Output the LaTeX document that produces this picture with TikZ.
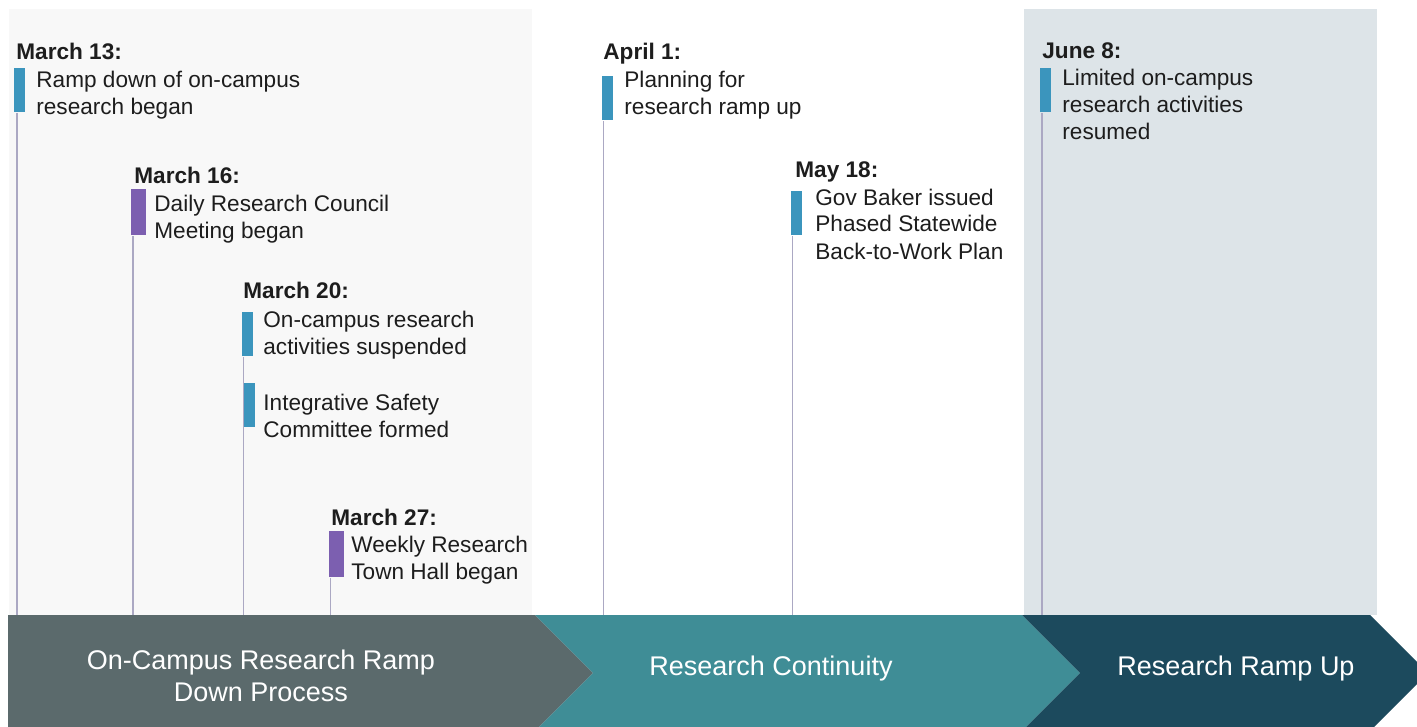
\documentclass[tikz,border=0pt]{standalone}
\usepackage{fontspec}
\setmainfont{Liberation Sans}
\definecolor{evblue}{HTML}{3B95BD}
\definecolor{evpurple}{HTML}{7C5FB0}
\definecolor{stemgray}{HTML}{ABA8C3}
\definecolor{panelgray}{HTML}{F8F8F8}
\definecolor{panelblue}{HTML}{DDE4E8}
\definecolor{phaseA}{HTML}{5B6A6C}
\definecolor{phaseB}{HTML}{3F8D96}
\definecolor{phaseC}{HTML}{1C4A5D}
\definecolor{inktext}{HTML}{1D1D1D}
\tikzset{
  bluebar/.style={fill=evblue, inner sep=0pt, minimum width=5.25pt, minimum height=22pt, anchor=north west},
  purplebar/.style={fill=evpurple, inner sep=0pt, minimum width=7.5pt, minimum height=23pt, anchor=north west},
  stem/.style={draw=stemgray, line width=0.7pt},
  evdate/.style={inner sep=0pt, anchor=base west, text=inktext, font=\fontsize{11.3}{13.5}\selectfont\bfseries},
  evtext/.style={inner sep=0pt, anchor=base west, align=left, text=inktext, font=\fontsize{11.3}{13.5}\selectfont},
  phase/.style={inner sep=0pt, align=center, text=white, font=\fontsize{13.5}{16}\selectfont}
}
\begin{document}
\begin{tikzpicture}[x=0.5pt, y=-0.5pt]
			%%%%% START %%%%%
			\useasboundingbox (0,0) rectangle (1417,727);
			\clip (0,0) rectangle (1417,727);
			
			\fill[panelgray] (9,9) rectangle (532,615);
			\fill[panelblue] (1024,9) rectangle (1377,615);
			\coordinate (base) at (0,615);
			
			% events (text placed by the baseline of its last line)
			\node[evdate] (d1) at (16,60) {March 13:};
			\node[bluebar] (b1) at (14,68) {};
			\node[evtext] (t1) at (36,115) {Ramp down of on-campus\\research began};
			
			\node[evdate] (d2) at (134,184) {March 16:};
			\node[purplebar] (b2) at (131,189) {};
			\node[evtext] (t2) at (154,239) {Daily Research Council\\Meeting began};
			
			\node[evdate] (d3) at (243,298) {March 20:};
			\node[bluebar] (b3) at (242,312) {};
			\node[evtext] (t3) at (263,354) {On-campus research\\activities suspended};
			\node[bluebar] (b3b) at (244,383) {};
			\node[evtext] (t3b) at (263,437) {Integrative Safety\\Committee formed};
			
			\node[evdate] (d4) at (331,525) {March 27:};
			\node[purplebar] (b4) at (329,531) {};
			\node[evtext] (t4) at (351,579) {Weekly Research\\Town Hall began};
			
			\node[evdate] (d5) at (603,60) {April 1:};
			\node[bluebar] (b5) at (602,76) {};
			\node[evtext] (t5) at (624,115) {Planning for\\research ramp up};
			
			\node[evdate] (d6) at (795,177) {May 18:};
			\node[bluebar] (b6) at (791,191) {};
			\node[evtext] (t6) at (815,259) {Gov Baker issued\\Phased Statewide\\Back-to-Work Plan};
			
			\node[evdate] (d7) at (1042,59) {June 8:};
			\node[bluebar] (b7) at (1040,68) {};
			\node[evtext] (t7) at (1062,140) {Limited on-campus\\research activities\\resumed};
			
			% stems
			\draw[stem] ([xshift=1.5pt]b1.south west) -- ([xshift=1.5pt]b1.south west |- base);
			\draw[stem] ([xshift=1pt]b2.south west) -- ([xshift=1pt]b2.south west |- base);
			\draw[stem] ([xshift=0.75pt]b3.south west) -- ([xshift=0.75pt]b3.south west |- base);
			\draw[stem] ([xshift=0.75pt]b4.south west) -- ([xshift=0.75pt]b4.south west |- base);
			\draw[stem] ([xshift=0.75pt]b5.south west) -- ([xshift=0.75pt]b5.south west |- base);
			\draw[stem] ([xshift=0.75pt]b6.south west) -- ([xshift=0.75pt]b6.south west |- base);
			\draw[stem] ([xshift=1pt]b7.south west) -- ([xshift=1pt]b7.south west |- base);
			
			% phases
			\fill[phaseA] (8,615) -- (535,615) -- (593,673) -- (535,731) -- (8,731) -- cycle;
			\fill[phaseB] (535,615) -- (1022,615) -- (1080,673) -- (1022,731) -- (535,731) -- (593,673) -- cycle;
			\fill[phaseC] (1022,615) -- (1370,615) -- (1428,673) -- (1370,731) -- (1022,731) -- (1080,673) -- cycle;
			
			\node[phase] (p1) at (261,676) {On-Campus Research Ramp\\Down Process};
			\node[phase, anchor=base] (p2) at (771,675) {Research Continuity};
			\node[phase, anchor=base] (p3) at (1236,675) {Research Ramp Up};
			
			%%%%% END %%%%%
\end{tikzpicture}
\end{document}
